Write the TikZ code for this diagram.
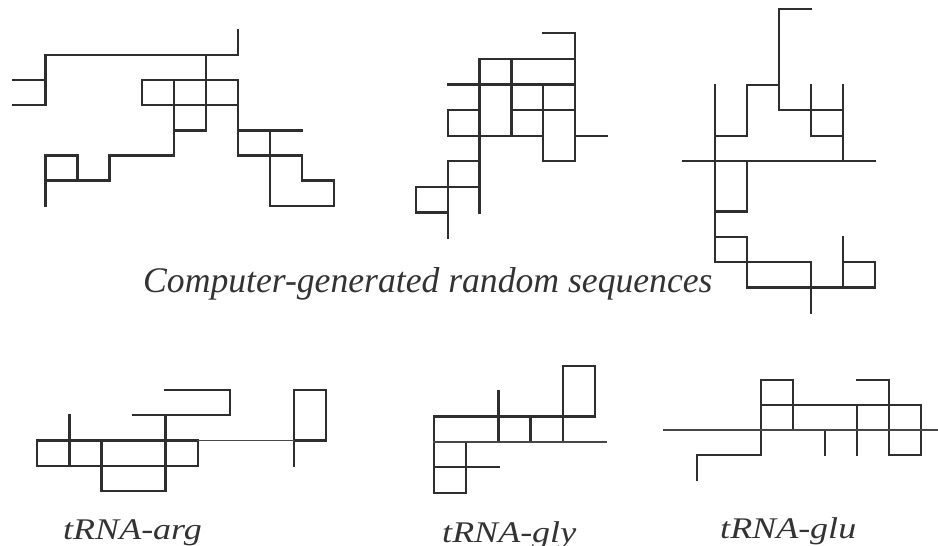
\documentclass[tikz,border=0pt]{standalone}
\usepackage{fontspec}
\setmainfont{Liberation Serif}
\begin{document}
\begin{tikzpicture}[x=1pt,y=-1pt,
  walk/.style={line width=2.3pt,draw=black!82,line cap=rect},
  thinwalk/.style={line width=1.7pt,draw=black!72,line cap=rect},
  caption/.style={font=\fontsize{36}{40}\selectfont\itshape,text=black!80,inner sep=0pt,anchor=base west,xscale=0.99},
  label/.style={font=\fontsize{30}{34}\selectfont\itshape,text=black!80,inner sep=0pt,anchor=base west,xscale=1.2}]
\useasboundingbox[fill=white] (0,0) rectangle (938,546);

% random walk 1 (top left)
\begin{scope}[shift={(13.3,30)},x=32.1pt,y=-25.1pt]
\draw[walk] (7,0)--(7,1) (1,1)--(7,1) (1,1)--(1,3) (0,2)--(1,2) (0,3)--(1,3)
  (6,1)--(6,4) (4,2)--(7,2) (4,2)--(4,3) (4,3)--(7,3) (7,2)--(7,5)
  (5,2)--(5,5) (5,4)--(6,4) (3,5)--(5,5) (3,5)--(3,6) (1,6)--(3,6)
  (1,5)--(2,5) (2,5)--(2,6) (1,5)--(1,7) (7,4)--(9,4) (8,4)--(8,7)
  (7,5)--(9,5) (9,5)--(9,6) (9,6)--(10,6) (10,6)--(10,7) (8,7)--(10,7);
\end{scope}

% random walk 2 (top middle)
\begin{scope}[shift={(416,33.3)},x=31.8pt,y=-25.6pt]
\draw[walk] (4,0)--(5,0) (5,0)--(5,5) (2,1)--(5,1) (2,1)--(2,7) (3,1)--(3,4)
  (1,2)--(5,2) (4,2)--(4,5) (3,3)--(5,3) (1,3)--(2,3) (1,3)--(1,4)
  (1,4)--(4,4) (5,4)--(6,4) (4,5)--(5,5) (1,5)--(2,5) (1,5)--(1,8)
  (0,6)--(2,6) (0,6)--(0,7) (0,7)--(1,7);
\end{scope}

% random walk 3 (top right)
\begin{scope}[shift={(682.7,9)},x=32.05pt,y=-25.33pt]
\draw[walk] (3,0)--(4,0) (3,0)--(3,4) (2,3)--(3,3) (2,3)--(2,5) (1,5)--(2,5)
  (1,3)--(1,10) (3,4)--(5,4) (4,3)--(4,5) (4,5)--(5,5) (5,3)--(5,6)
  (0,6)--(6,6) (2,6)--(2,8) (1,8)--(2,8) (1,9)--(2,9) (2,9)--(2,11)
  (1,10)--(4,10) (4,10)--(4,12) (2,11)--(6,11) (5,9)--(5,11)
  (5,10)--(6,10) (6,10)--(6,11);
\end{scope}

% tRNA-arg
\begin{scope}[shift={(37.3,390)},x=32.07pt,y=-25.25pt]
\draw[walk] (4,0)--(6,0) (6,0)--(6,1) (3,1)--(6,1) (4,1)--(4,4) (1,1)--(1,3)
  (0,2)--(5,2) (8,2)--(9,2) (0,2)--(0,3) (0,3)--(5,3) (5,2)--(5,3)
  (2,2)--(2,4) (2,4)--(4,4) (8,0)--(8,3) (8,0)--(9,0) (9,0)--(9,2);
\draw[thinwalk] (5,2)--(8,2);
\end{scope}

% tRNA-gly
\begin{scope}[shift={(434,365.7)},x=32.2pt,y=-25.4pt]
\draw[walk] (4,0)--(5,0) (5,0)--(5,2) (4,0)--(4,3) (0,2)--(5,2) (2,1)--(2,3)
  (3,2)--(3,3) (0,2)--(0,5) (1,3)--(1,5) (0,4)--(2,4) (0,5)--(1,5);
\draw[thinwalk] (0,3)--(5.36,3);
\end{scope}

% tRNA-glu
\begin{scope}[shift={(697.3,380)},x=32pt,y=-25pt]
\draw[walk] (2,0)--(3,0) (2,0)--(2,3) (3,0)--(3,2) (2,1)--(7,1)
  (0,3)--(2,3) (0,3)--(0,4) (4,2)--(4,3) (5,1)--(5,3) (5,0)--(6,0)
  (6,0)--(6,3) (6,3)--(7,3) (7,1)--(7,3);
\draw[thinwalk] (-1.04,2)--(7.6,2);
\end{scope}

\node[caption] (cap) at (143,292) {Computer-generated random sequences};
\node[label] (arg) at (63,539) {tRNA-arg};
\node[label] (gly) at (442,542) {tRNA-gly};
\node[label] (glu) at (720,538) {tRNA-glu};
\end{tikzpicture}
\end{document}
